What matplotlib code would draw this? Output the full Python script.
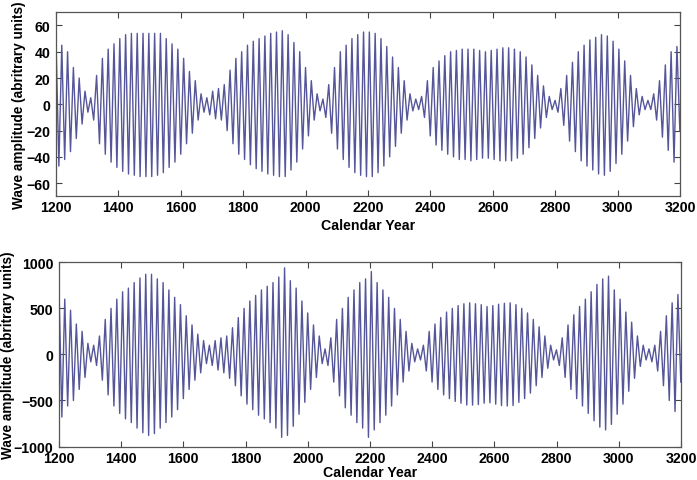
import numpy as np
import matplotlib
matplotlib.use('Agg')
import matplotlib.pyplot as plt

plt.rcParams['font.family'] = ['Liberation Sans', 'DejaVu Sans']
plt.rcParams['font.weight'] = 'bold'

# carrier period ~18.6 yr, peak years start at 1200, troughs half a period later
period = 18.6
start_year = 1200

top_peaks = [50, 45, 40, 28, 20, 10, 5, 22, 35, 42, 46, 50, 53, 54, 54, 54, 54, 54, 54, 50,
             46, 42, 35, 25, 18, 8, 5, 10, 12, 15, 26, 35, 40, 45, 48, 50, 52, 54, 55, 56,
             53, 47, 40, 28, 18, 8, 4, 15, 28, 40, 45, 50, 53, 55, 55, 54, 50, 44, 36, 28,
             18, 8, 4, 6, 18, 28, 33, 37, 40, 41, 42, 42, 42, 41, 40, 41, 42, 43, 43, 42,
             40, 36, 30, 22, 14, 6, 3, 12, 22, 32, 40, 45, 49, 51, 53, 52, 48, 42, 33, 22,
             12, 6, 3, 8, 18, 30, 40, 44]
top_troughs = [-47, -42, -36, -26, -15, -6, -12, -30, -38, -44, -48, -51, -53, -54, -55, -55, -55, -54, -52, -48,
               -44, -38, -30, -22, -12, -6, -8, -11, -12, -20, -30, -38, -42, -46, -49, -51, -53, -54, -55, -55,
               -50, -44, -34, -24, -12, -5, -10, -22, -34, -42, -48, -52, -54, -55, -55, -52, -47, -40, -32, -22,
               -12, -5, -4, -10, -24, -31, -35, -38, -40, -42, -42, -43, -42, -41, -41, -42, -43, -43, -43, -41,
               -38, -33, -26, -18, -10, -4, -6, -16, -28, -36, -43, -47, -50, -53, -54, -51, -45, -38, -28, -17,
               -8, -4, -4, -12, -25, -35, -44, -20]

bot_peaks = [730, 600, 480, 330, 250, 120, 100, 200, 380, 500, 600, 680, 720, 780, 830, 870, 870, 820, 780, 700,
             620, 540, 420, 320, 220, 150, 100, 150, 180, 200, 290, 400, 500, 580, 640, 700, 740, 780, 840, 940,
             800, 720, 580, 450, 320, 200, 60, 180, 380, 500, 620, 700, 780, 820, 900, 780, 700, 620, 500, 380,
             250, 120, 60, 100, 250, 330, 400, 460, 500, 530, 550, 560, 550, 540, 520, 530, 545, 555, 560, 540,
             500, 450, 380, 300, 200, 100, 50, 180, 320, 430, 520, 600, 680, 760, 820, 850, 700, 600, 460, 350,
             200, 100, 60, 100, 250, 420, 560, 650]
bot_troughs = [-680, -560, -500, -380, -250, -80, -120, -280, -440, -560, -640, -700, -740, -800, -850, -880, -860, -800, -740, -680,
               -600, -480, -380, -280, -200, -100, -120, -170, -200, -260, -340, -450, -540, -600, -660, -700, -740, -800, -900, -880,
               -780, -650, -520, -380, -250, -100, -120, -300, -450, -580, -660, -740, -800, -900, -820, -740, -660, -560, -440, -300,
               -180, -80, -60, -180, -300, -380, -440, -480, -510, -530, -550, -550, -545, -530, -525, -540, -555, -560, -555, -520,
               -480, -420, -340, -250, -150, -60, -120, -250, -380, -480, -560, -640, -720, -790, -820, -760, -650, -540, -400, -260,
               -130, -60, -80, -180, -340, -500, -620, -300]

xticks = [1200, 1400, 1600, 1800, 2000, 2200, 2400, 2600, 2800, 3000, 3200]
top_yticks = [-60, -40, -20, 0, 20, 40, 60]
bot_yticks = [-1000, -500, 0, 500, 1000]


def zigzag(peaks, troughs):
    n = len(peaks)
    yrs = start_year + period * np.arange(n)
    x = np.empty(2 * n)
    y = np.empty(2 * n)
    x[0::2] = yrs
    x[1::2] = yrs + period / 2
    y[0::2] = peaks
    y[1::2] = troughs
    return x, y


fig = plt.figure(figsize=(6.97, 4.81), dpi=100)
ax1 = fig.add_axes([0.0803, 0.5898, 0.8953, 0.3825])
ax2 = fig.add_axes([0.0846, 0.0696, 0.8924, 0.3830])

panels = [(ax1, top_peaks, top_troughs, top_yticks, 70, -0.048, -0.12),
          (ax2, bot_peaks, bot_troughs, bot_yticks, 1000, -0.071, -0.10)]

for ax, pk, tr, yt, lim, ylx, xly in panels:
    x, y = zigzag(pk, tr)
    ax.plot(x, y, color='#55559a', lw=1.0)
    ax.set_xlim(1200, 3200)
    ax.set_ylim(-lim, lim)
    ax.set_xticks(xticks)
    ax.set_yticks(yt)
    ax.tick_params(direction='in', top=True, right=True, length=4, width=0.8,
                   labelsize=10.2, color='#444444')
    ax.tick_params(axis='x', pad=3)
    ax.tick_params(axis='y', pad=4)
    for lab in ax.get_xticklabels() + ax.get_yticklabels():
        lab.set_fontweight('bold')
    for s in ax.spines.values():
        s.set_color('#555555')
        s.set_linewidth(0.9)
    ax.set_xlabel('Calendar Year', fontsize=10.2, fontweight='bold')
    ax.set_ylabel('Wave amplitude (abritrary units)', fontsize=9.8, fontweight='bold')
    ax.yaxis.set_label_coords(ylx, 0.5)
    ax.xaxis.set_label_coords(0.5, xly)

fig.savefig('out.png', dpi=100)
